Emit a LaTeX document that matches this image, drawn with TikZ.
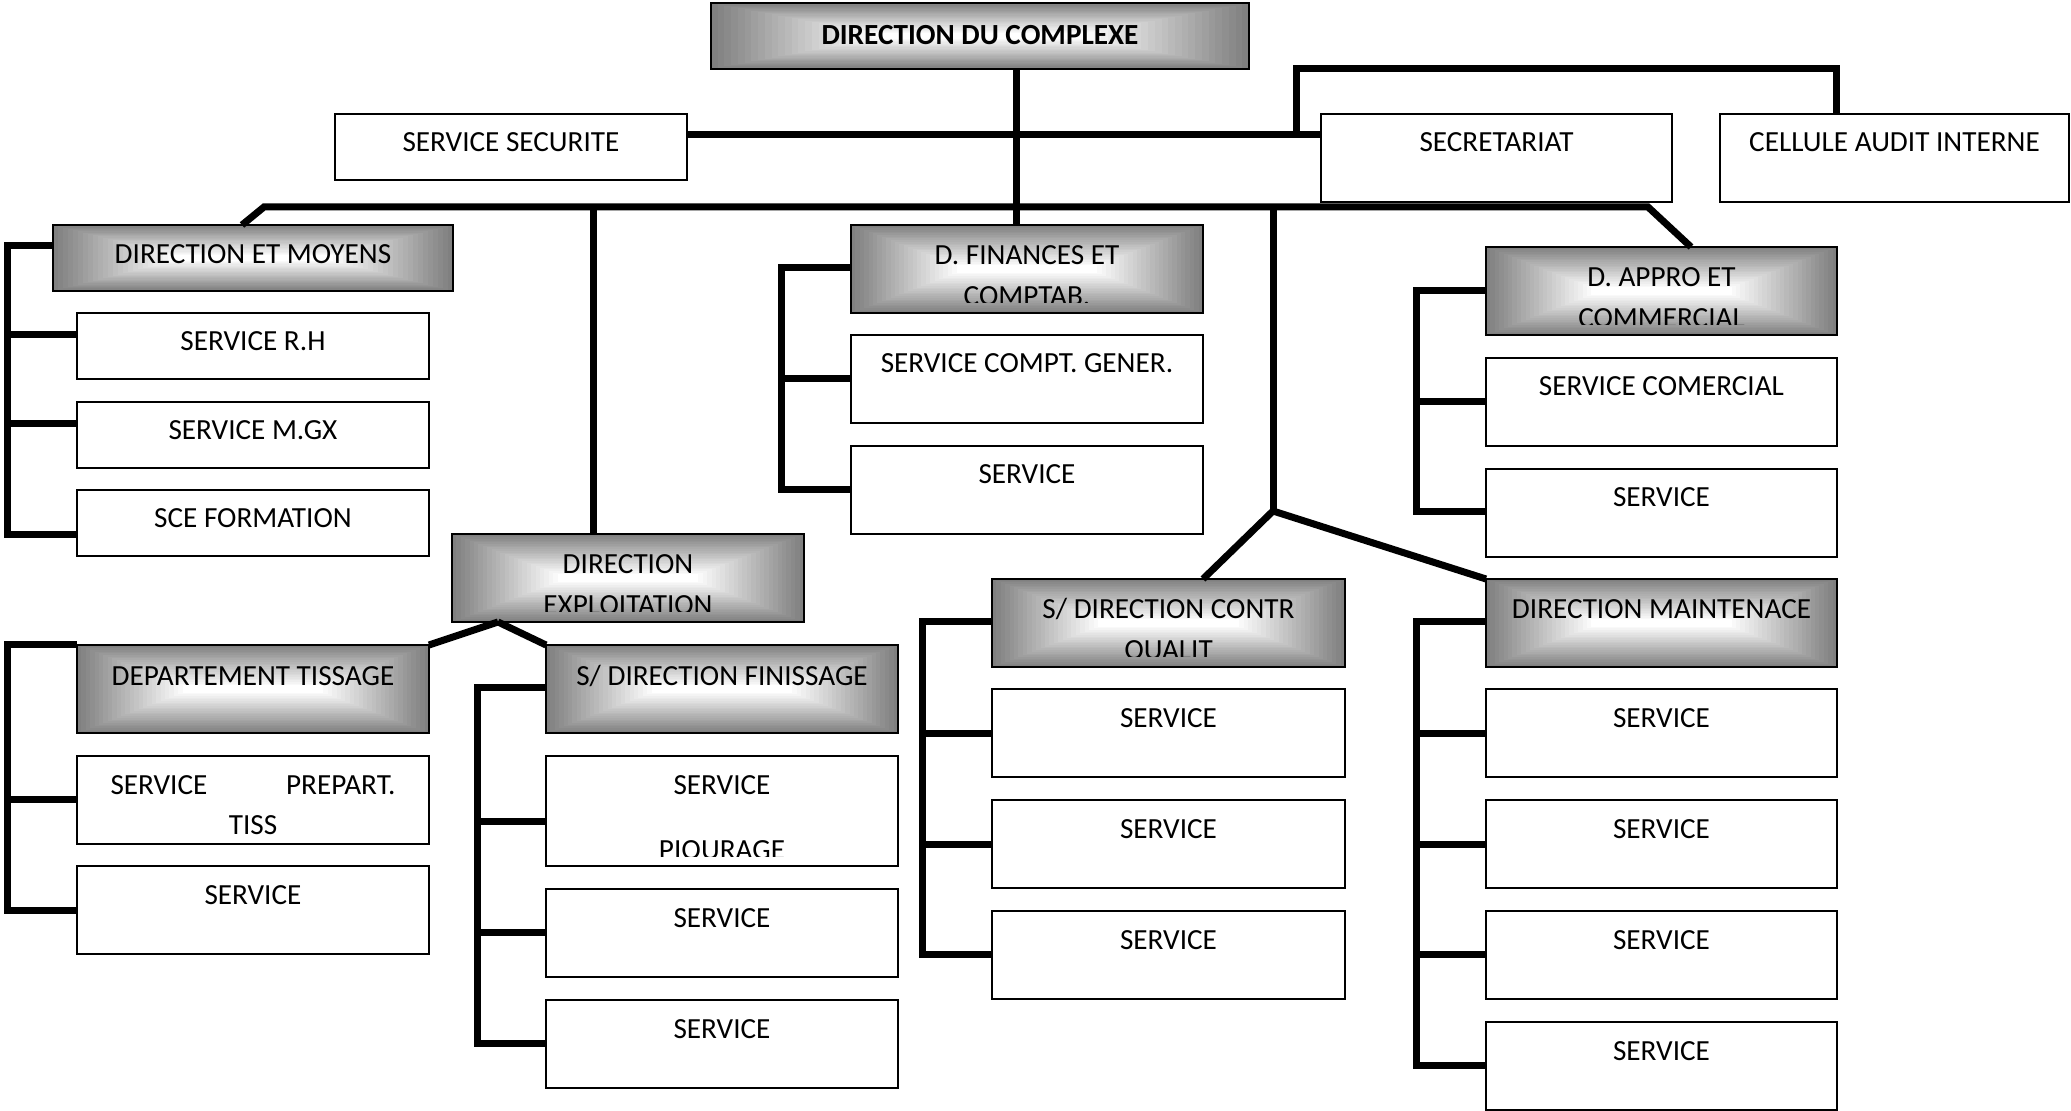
\documentclass[tikz,border=0pt]{standalone}
\usepackage{fontspec}
\setmainfont{Carlito}
\usetikzlibrary{calc}
\newcommand\gradfill{%
 \pgfpointanchor{path picture bounding box}{south west}\pgfgetlastxy\gxa\gya
 \pgfpointanchor{path picture bounding box}{north east}\pgfgetlastxy\gxb\gyb
 \foreach \gi in {0,...,24}{%
   \pgfmathsetmacro\gdx{(\gxb-\gxa)*0.3*\gi/24}%
   \pgfmathsetmacro\gdy{(\gyb-\gya)*0.46*\gi/24}%
   \pgfmathtruncatemacro\gcol{100*\gi/24}%
   \fill[white!\gcol!black!50] (\gxa+\gdx pt,\gya+\gdy pt) rectangle (\gxb-\gdx pt,\gyb-\gdy pt);
 }}
\newcommand\txtclip[4]{%
 \clip ([yshift=5pt]path picture bounding box.south west) rectangle (path picture bounding box.north east);
 \node[txt] at ($(path picture bounding box.north)+(0,#2)$) {#1};
 \node[txt] at ($(path picture bounding box.north)+(0,#4)$) {#3};}
\tikzset{
 conn/.style={line width=3.5pt, line join=miter},
 txt/.style={font=\fontsize{14.6}{17}\selectfont, inner sep=0pt, outer sep=0pt, anchor=base,
   draw=none, fill=none, minimum width=0pt, minimum height=0pt, rectangle},
 base/.style={draw=black, line width=0.8pt, fill=white, rectangle, inner sep=0pt, outer sep=0pt, anchor=north west},
 sz/.style 2 args={minimum width={#1*0.5pt}, minimum height={#2*0.5pt}},
 gt/.style n args={4}{base, path picture={\gradfill\txtclip{#1}{#2}{#3}{#4}}},
 wt/.style n args={4}{base, path picture={\txtclip{#1}{#2}{#3}{#4}}},
}
\begin{document}
\begin{tikzpicture}[x=0.5pt,y=-0.5pt]
\useasboundingbox (0,0) rectangle (2071,1111);
\fill[white] (0,0) rectangle (2071,1111);

% boxes
\node[gt={\bfseries DIRECTION DU COMPLEXE}{42}{}{80}, sz={538}{66}] (top) at (711,3) {};
\node[wt={SERVICE SECURITE}{38}{}{79}, sz={352}{66}] (secu) at (335,114) {};
\node[wt={SECRETARIAT}{38}{}{79}, sz={351}{88}] (secr) at (1321,114) {};
\node[wt={CELLULE AUDIT INTERNE}{38}{}{79}, sz={349}{88}] (audit) at (1720,114) {};

\node[gt={DIRECTION ET MOYENS}{39}{}{79}, sz={400}{66}] (dem) at (53,225) {};
\node[wt={SERVICE R.H}{38}{}{79}, sz={352}{66}] (rh) at (77,313) {};
\node[wt={SERVICE M.GX}{38}{}{79}, sz={352}{66}] (mgx) at (77,402) {};
\node[wt={SCE FORMATION}{38}{}{79}, sz={352}{66}] (form) at (77,490) {};

\node[gt={D. FINANCES ET}{40}{COMPTAB.}{81}, sz={352}{88}] (fin) at (851,225) {};
\node[wt={SERVICE COMPT. GENER.}{38}{}{79}, sz={352}{88}] (cgen) at (851,335) {};
\node[wt={SERVICE}{38}{}{79}, sz={352}{88}] (sfin) at (851,446) {};

\node[gt={D. APPRO ET}{40}{COMMERCIAL}{81}, sz={351}{88}] (appro) at (1486,247) {};
\node[wt={SERVICE COMERCIAL}{38}{}{79}, sz={351}{88}] (scom) at (1486,358) {};
\node[wt={SERVICE}{38}{}{79}, sz={351}{88}] (sappro) at (1486,469) {};

\node[gt={DIRECTION}{40}{EXPLOITATION}{81}, sz={352}{88}] (expl) at (452,534) {};

\node[gt={DEPARTEMENT TISSAGE}{40}{}{82}, sz={352}{88}] (tiss) at (77,645) {};
\node[wt={\makebox[142.5pt]{SERVICE\hfill PREPART.}}{38}{TISS}{78}, sz={352}{88}] (prep) at (77,756) {};
\node[wt={SERVICE}{38}{}{79}, sz={352}{88}] (stiss) at (77,866) {};

\node[gt={S/ DIRECTION FINISSAGE}{40}{}{82}, sz={352}{88}] (fini) at (546,645) {};
\node[wt={SERVICE}{38}{PIQURAGE}{103}, sz={352}{110}] (piq) at (546,756) {};
\node[wt={SERVICE}{38}{}{79}, sz={352}{88}] (sf2) at (546,889) {};
\node[wt={SERVICE}{38}{}{79}, sz={352}{88}] (sf3) at (546,1000) {};

\node[gt={S/ DIRECTION CONTR}{40}{QUALIT}{81}, sz={353}{88}] (cq) at (992,579) {};
\node[wt={SERVICE}{38}{}{79}, sz={353}{88}] (cq1) at (992,689) {};
\node[wt={SERVICE}{38}{}{79}, sz={353}{88}] (cq2) at (992,800) {};
\node[wt={SERVICE}{38}{}{79}, sz={353}{88}] (cq3) at (992,911) {};

\node[gt={DIRECTION MAINTENACE}{40}{}{82}, sz={351}{88}] (mt) at (1486,579) {};
\node[wt={SERVICE}{38}{}{79}, sz={351}{88}] (mt1) at (1486,689) {};
\node[wt={SERVICE}{38}{}{79}, sz={351}{88}] (mt2) at (1486,800) {};
\node[wt={SERVICE}{38}{}{79}, sz={351}{88}] (mt3) at (1486,911) {};
\node[wt={SERVICE}{38}{}{79}, sz={351}{88}] (mt4) at (1486,1022) {};

% junctions
\coordinate (j1) at (1296,135);
\coordinate (j2) at (593,207);
\coordinate (j3) at (1273,207);
\coordinate (j4) at (1273,511);
\coordinate (j5) at (498,622);

% top level connectors
\draw[conn] (top.south -| 1016,0) -- (fin.north -| 1016,0);
\draw[conn] (secu.east |- j1) -- (secr.west |- j1);
\draw[conn] (j1) -- (1296,69) -- (1836,69) -- (audit.north -| 1836,0);
\draw[conn] (dem.north -| 242,0) -- (264,207) -- (1648,207) -- (appro.north -| 1691,0);
\draw[conn] (j2) -- (expl.north -| j2);
\draw[conn] (j3) -- (j4);
\draw[conn] (j4) -- (cq.north -| 1203,0);
\draw[conn] (j4) -- (mt.north west);
\draw[conn] (j5) -- (tiss.north east);
\draw[conn] (j5) -- (fini.north west);

% brackets
\draw[conn] (dem.west |- 0,246) -- (7,246) -- (7,535) -- (form.west |- 0,535);
\draw[conn] (7,335) -- (rh.west |- 0,335);
\draw[conn] (7,424) -- (mgx.west |- 0,424);

\draw[conn] (fin.west |- 0,268) -- (781,268) -- (781,490) -- (sfin.west |- 0,490);
\draw[conn] (781,379) -- (cgen.west |- 0,379);

\draw[conn] (appro.west |- 0,291) -- (1416,291) -- (1416,512) -- (sappro.west |- 0,512);
\draw[conn] (1416,402) -- (scom.west |- 0,402);

\draw[conn] (tiss.west |- 0,645) -- (7,645) -- (7,910) -- (stiss.west |- 0,910);
\draw[conn] (7,799) -- (prep.west |- 0,799);

\draw[conn] (fini.west |- 0,688) -- (477,688) -- (477,1043) -- (sf3.west |- 0,1043);
\draw[conn] (477,821) -- (piq.west |- 0,821);
\draw[conn] (477,932) -- (sf2.west |- 0,932);

\draw[conn] (cq.west |- 0,622) -- (922,622) -- (922,954) -- (cq3.west |- 0,954);
\draw[conn] (922,733) -- (cq1.west |- 0,733);
\draw[conn] (922,844) -- (cq2.west |- 0,844);

\draw[conn] (mt.west |- 0,622) -- (1416,622) -- (1416,1065) -- (mt4.west |- 0,1065);
\draw[conn] (1416,733) -- (mt1.west |- 0,733);
\draw[conn] (1416,844) -- (mt2.west |- 0,844);
\draw[conn] (1416,954) -- (mt3.west |- 0,954);
\end{tikzpicture}
\end{document}
